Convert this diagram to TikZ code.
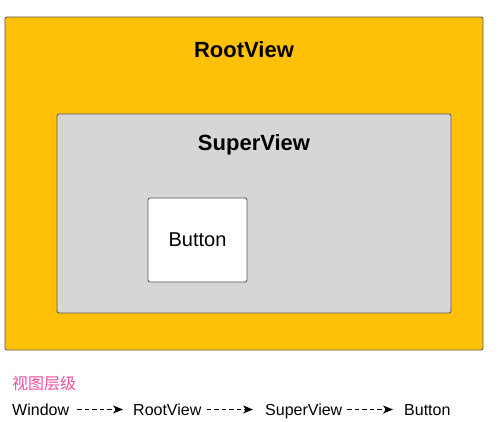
\documentclass[tikz,border=0pt]{standalone}
\usepackage{fontspec}
\setmainfont{Liberation Sans}
\newfontfamily\cjk{Noto Sans CJK SC}
\usetikzlibrary{arrows,arrows.meta}
\usetikzlibrary{positioning}
\definecolor{rahmen}{RGB}{85,85,85}
\definecolor{amber}{RGB}{255,193,7}
\definecolor{hellgrau}{RGB}{214,214,214}
\definecolor{pink}{RGB}{240,80,160}

\begin{document}
\begin{tikzpicture}[x=1pt, y=-1pt,
    viewbox/.style={draw=rahmen, line width=0.8pt, rounded corners=2pt, inner sep=0pt},
    titel/.style={font=\fontsize{22}{26}\selectfont\bfseries},
    legende/.style={font=\fontsize{16}{19}\selectfont, inner sep=0pt, anchor=base west},
    pfeil/.style={dash pattern=on 4.5pt off 3pt, line width=1pt, -{Stealth[length=10pt,width=8pt,inset=3pt]}}]

    \useasboundingbox (0,0) rectangle (500,422);

    % Ansichten
    \node[viewbox, fill=amber, minimum width=478pt, minimum height=333pt] (root) at (244,183.5) {};
    \node[titel] (roottitel) at (244,50) {RootView};
    \node[viewbox, fill=hellgrau, minimum width=394pt, minimum height=199pt] (super) at (254,213.5) {};
    \node[titel] (supertitel) at (254,145) {SuperView};
    \node[viewbox, fill=white, minimum width=99pt, minimum height=84pt,
          font=\fontsize{20}{24}\selectfont] (button) at (197.5,240) {Button};

    % Hierarchie
    \node[legende, text=pink, font=\fontsize{16}{19}\selectfont\cjk] (ueber) at (12,389) {视图层级};
    \node[legende] (window) at (12,415) {Window};
    \node[legende] (rootview) at (133,415) {RootView};
    \node[legende] (superview) at (265,415) {SuperView};
    \node[legende] (buttonview) at (404,415) {Button};
    \draw[pfeil] ([xshift=8pt,yshift=5.5pt]window.base east) -- ([xshift=-10pt,yshift=5.5pt]rootview.base west);
    \draw[pfeil] ([xshift=5pt,yshift=5.5pt]rootview.base east) -- ([xshift=-12pt,yshift=5.5pt]superview.base west);
    \draw[pfeil] ([xshift=5pt,yshift=5.5pt]superview.base east) -- ([xshift=-11pt,yshift=5.5pt]buttonview.base west);

\end{tikzpicture}
\end{document}
